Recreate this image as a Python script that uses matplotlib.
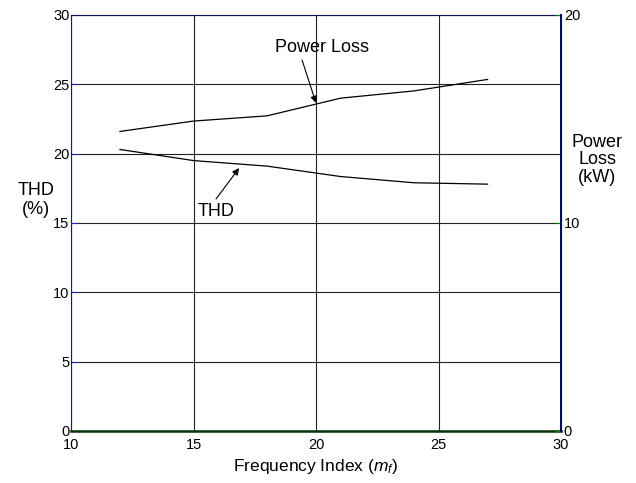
import matplotlib
matplotlib.use('Agg')
import matplotlib.pyplot as plt

plt.rcParams['font.family'] = ['Liberation Sans', 'DejaVu Sans']
plt.rcParams['mathtext.fontset'] = 'custom'
plt.rcParams['mathtext.it'] = 'Liberation Sans:italic'
plt.rcParams['mathtext.rm'] = 'Liberation Sans'

# data
mf = [12, 15, 18, 21, 24, 27]
thd = [20.3, 19.5, 19.1, 18.35, 17.9, 17.8]          # %
power_loss = [14.4, 14.9, 15.15, 16.0, 16.35, 16.9]  # kW

fig = plt.figure(figsize=(6.36, 4.83), dpi=100)
ax = fig.add_axes([0.1116, 0.1077, 0.7706, 0.8613])
ax2 = ax.twinx()

ax.set_xlim(10, 30)
ax.set_ylim(0, 30)
ax2.set_ylim(0, 20)
ax.set_xticks([10, 15, 20, 25, 30])
ax.set_yticks([0, 5, 10, 15, 20, 25, 30])
ax2.set_yticks([0, 10, 20])

ax.grid(True, color='#222222', lw=0.8)
ax.set_axisbelow(True)

ax.plot(mf, thd, color='black', lw=0.9)
ax2.plot(mf, power_loss, color='black', lw=0.9)

ax.spines['left'].set_color('#1010c0')
ax.spines['bottom'].set_color('#003300')
ax.spines['bottom'].set_linewidth(1.8)
ax.spines['top'].set_color('#101050')
ax2.spines['right'].set_color('#000080')
ax2.spines['right'].set_linewidth(1.4)
ax2.spines['left'].set_visible(False)
ax2.spines['top'].set_visible(False)
ax2.spines['bottom'].set_visible(False)

ax.tick_params(axis='y', direction='in', length=4, color='#2020e0', labelsize=10.5, pad=1)
ax.tick_params(axis='x', direction='in', length=0, labelsize=10.5, pad=5)
ax2.tick_params(axis='y', direction='in', length=4, color='#008000', labelsize=10.5, pad=2)

ax.set_xlabel(r'Frequency Index ($m_f$)', fontsize=12.5, labelpad=4)
fig.text(0.057, 0.586, 'THD\n(%)', fontsize=13, ha='center', va='center', linespacing=1.1)
fig.text(0.939, 0.669, 'Power\nLoss\n(kW)', fontsize=13, ha='center', va='center', linespacing=1.05)

arrow = dict(arrowstyle='-|>', color='black', lw=0.8, shrinkA=0, shrinkB=0, mutation_scale=10)
ax.text(20.24, 27.65, 'Power Loss', fontsize=13, ha='center', va='center')
ax.annotate('', xy=(20.0, 23.65), xytext=(19.43, 26.75), arrowprops=arrow)
ax.text(15.92, 15.86, 'THD', fontsize=13, ha='center', va='center')
ax.annotate('', xy=(16.86, 18.96), xytext=(15.92, 16.73), arrowprops=arrow)

fig.savefig('out.png', dpi=100, facecolor='white')
